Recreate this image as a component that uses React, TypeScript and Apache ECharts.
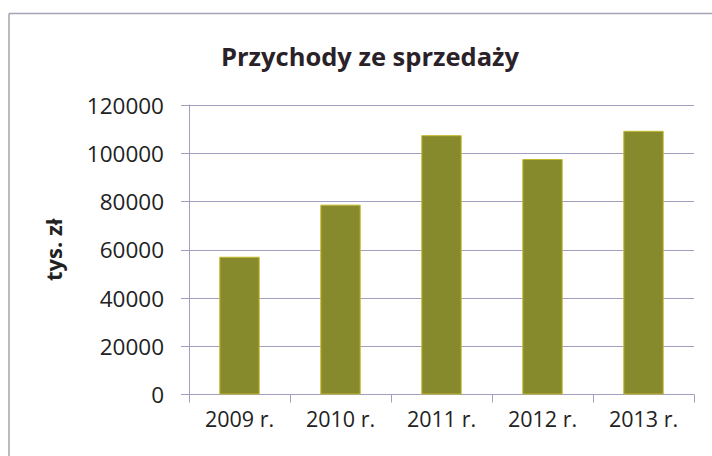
import React, { useEffect, useRef } from "react";
import * as echarts from "echarts";

const categories = ["2009 r.", "2010 r.", "2011 r.", "2012 r.", "2013 r."];
const revenue = [57100, 78700, 107500, 97600, 109300];
const yTicks = { min: 0, max: 120000, interval: 20000 };
const titleText = "Przychody ze sprzedaży";
const yAxisName = "tys. zł";

const FONT = "'Open Sans', 'Noto Sans', sans-serif";

export default function App() {
  const ref = useRef<HTMLDivElement>(null);
  useEffect(() => {
    if (!ref.current) return;
    const chart = echarts.init(ref.current, undefined, { renderer: "svg" });
    chart.setOption({
      animation: false,
      backgroundColor: "#ffffff",
      title: {
        text: titleText,
        left: 365,
        top: 38,
        textAlign: "center",
        textStyle: {
          fontFamily: FONT,
          fontSize: 25.5,
          fontWeight: "bold",
          color: "#2a2228",
        },
      },
      grid: { left: 189, right: 18, top: 105, bottom: 61.5, containLabel: false },
      xAxis: {
        type: "category",
        data: categories,
        boundaryGap: true,
        axisLine: { lineStyle: { color: "#a29ec0", width: 1 } },
        axisTick: { show: true, length: 8, lineStyle: { color: "#a29ec0" } },
        axisLabel: {
          margin: 13,
          fontFamily: FONT,
          fontSize: 21.5,
          color: "#222222",
        },
        splitLine: { show: false },
      },
      yAxis: {
        type: "value",
        min: yTicks.min,
        max: yTicks.max,
        interval: yTicks.interval,
        name: yAxisName,
        nameLocation: "middle",
        nameGap: 125,
        nameRotate: 90,
        nameTextStyle: {
          fontFamily: FONT,
          fontSize: 22,
          fontWeight: "bold",
          color: "#222222",
        },
        axisLine: { show: true, lineStyle: { color: "#a29ec0", width: 1 } },
        axisTick: { show: true, inside: false, length: 8, lineStyle: { color: "#a29ec0" } },
        axisLabel: {
          margin: 25,
          fontFamily: FONT,
          fontSize: 22.5,
          color: "#222222",
          formatter: (v: number) => String(v),
        },
        splitLine: { show: true, lineStyle: { color: "#a29ec0", width: 1 } },
      },
      series: [
        {
          type: "bar",
          data: revenue,
          barWidth: "40%",
          itemStyle: {
            color: "#868a2c",
            borderColor: "#c4b82c",
            borderWidth: 1,
          },
        },
      ],
      graphic: [
        {
          type: "line",
          shape: { x1: 9, y1: 13.5, x2: 712, y2: 13.5 },
          style: { stroke: "#a4a2b4", lineWidth: 1.5 },
          silent: true,
        },
        {
          type: "line",
          shape: { x1: 9, y1: 13.5, x2: 9, y2: 456 },
          style: { stroke: "#a4a4a8", lineWidth: 1.5 },
          silent: true,
        },
      ],
    });
    return () => chart.dispose();
  }, []);
  return (
    <div
      ref={ref}
      style={{ position: "absolute", left: 0, top: 0, width: 712, height: 456 }}
    />
  );
}
